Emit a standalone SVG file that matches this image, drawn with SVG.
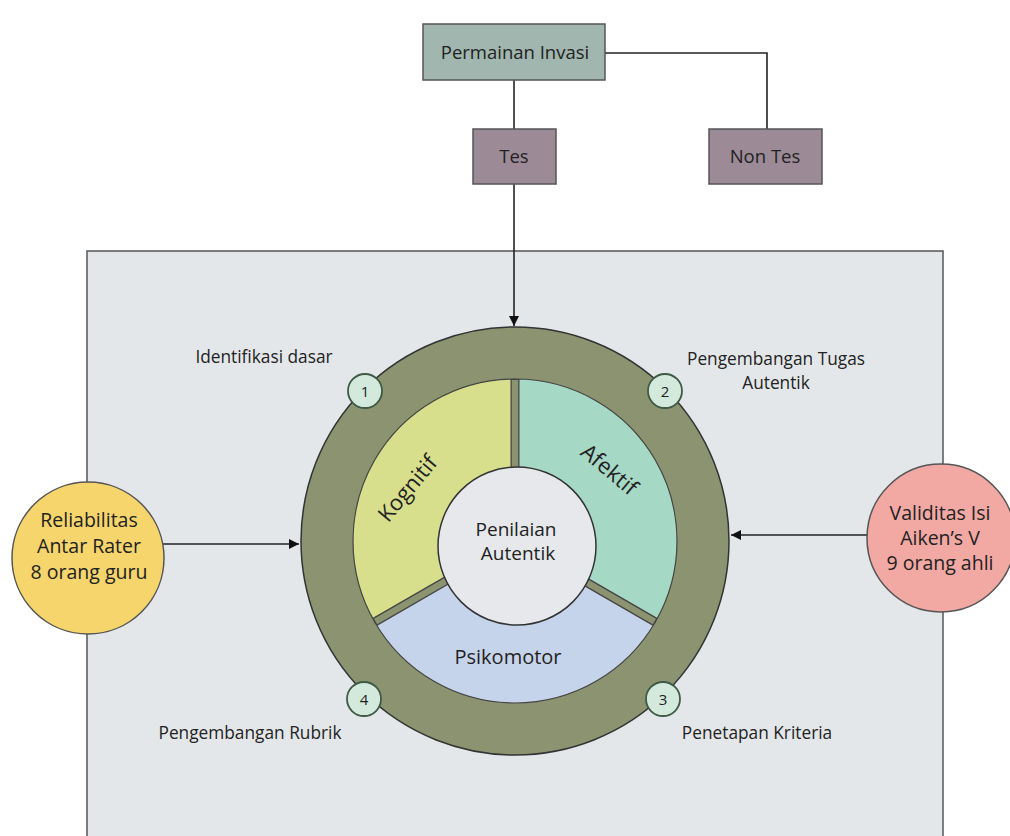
<svg xmlns="http://www.w3.org/2000/svg" width="1010" height="836" viewBox="0 0 1010 836">
<defs>
<style>
text{font-family:"Open Sans","Noto Sans","Liberation Sans",sans-serif;fill:#222;text-anchor:middle}
.lbl{font-size:17.3px}
.big{font-size:19.5px}
.box{stroke:#555;stroke-width:1.5}
.conn{stroke:#222;stroke-width:1.6;fill:none}
.num{fill:#d2e9dc;stroke:#3f5a45;stroke-width:1.8}
.sec{stroke:#444;stroke-width:1.2}
</style>
<marker id="ah" viewBox="0 0 10 10" refX="10" refY="5" markerWidth="10" markerHeight="10" markerUnits="userSpaceOnUse" orient="auto"><path d="M0,0 L10,5 L0,10 z" fill="#111"/></marker>
</defs>
<rect x="0" y="0" width="1010" height="836" fill="#ffffff"/>
<g id="panel"><rect x="87" y="251" width="856" height="600" fill="#e4e7ea" stroke="#555" stroke-width="1.5"/></g>
<g id="connectors">
<path class="conn" d="M514,80 V129"/>
<path class="conn" d="M605,53 H767 V129"/>
<path class="conn" d="M514,184 V326" marker-end="url(#ah)"/>
<path class="conn" d="M163,544 H299" marker-end="url(#ah)"/>
<path class="conn" d="M867,535 H731" marker-end="url(#ah)"/>
</g>
<g id="permainan"><rect class="box" x="423" y="24" width="182" height="56" fill="#a0b6ae"/><text x="515" y="59" style="font-size:18.5px">Permainan Invasi</text></g>
<g id="tes"><rect class="box" x="473" y="129" width="83" height="55" fill="#9c8b96"/><text x="514" y="163" style="font-size:18.5px">Tes</text></g>
<g id="nontes"><rect class="box" x="709" y="129" width="113" height="55" fill="#9c8b96"/><text x="765" y="163" style="font-size:18.5px">Non Tes</text></g>
<g id="ring"><circle cx="515" cy="541" r="214" fill="#8b9370" stroke="#333" stroke-width="1.5"/></g>
<g id="kognitif"><path class="sec" d="M515,541 L374.7,622 A162,162 0 0 1 515,379 Z" fill="#d7df8c"/><text transform="translate(408,489) rotate(-50)" style="font-size:22px" dy="7">Kognitif</text></g>
<g id="afektif"><path class="sec" d="M515,541 L515,379 A162,162 0 0 1 655.3,622 Z" fill="#a6d8c6"/><text transform="translate(609,470) rotate(40)" style="font-size:22px" dy="7">Afektif</text></g>
<g id="psikomotor"><path class="sec" d="M515,541 L655.3,622 A162,162 0 0 1 374.7,622 Z" fill="#c6d4eb"/><text x="508" y="664" style="font-size:20px">Psikomotor</text></g>
<g id="dividers">
<path d="M515,541 V379 M515,541 L655.3,622 M515,541 L374.7,622" stroke="#444" stroke-width="9"/>
<path d="M515,541 V380 M515,541 L654.4,621.5 M515,541 L375.6,621.5" stroke="#8b9370" stroke-width="6.5"/>
</g>
<g id="center"><circle cx="517" cy="546" r="79" fill="#e6e8eb" stroke="#333" stroke-width="1.5"/><text x="516" y="536" style="font-size:19px">Penilaian</text><text x="518" y="560" style="font-size:19px">Autentik</text></g>
<g id="n1"><circle class="num" cx="365" cy="391" r="17"/><text x="365" y="397" style="font-size:15px">1</text></g>
<g id="n2"><circle class="num" cx="665" cy="391" r="17"/><text x="665" y="397" style="font-size:15px">2</text></g>
<g id="n3"><circle class="num" cx="663" cy="699" r="17"/><text x="663" y="705" style="font-size:15px">3</text></g>
<g id="n4"><circle class="num" cx="364" cy="699" r="17"/><text x="364" y="705" style="font-size:15px">4</text></g>
<g id="lbl1"><text class="lbl" x="264" y="363">Identifikasi dasar</text></g>
<g id="lbl2"><text class="lbl" x="776" y="365">Pengembangan Tugas</text><text class="lbl" x="776" y="389">Autentik</text></g>
<g id="lbl3"><text class="lbl" x="757" y="739">Penetapan Kriteria</text></g>
<g id="lbl4"><text class="lbl" x="250" y="739">Pengembangan Rubrik</text></g>
<g id="reliabilitas"><circle cx="88" cy="558" r="76" fill="#f6d56d" stroke="#555" stroke-width="1.5"/><text class="big" x="89" y="527">Reliabilitas</text><text class="big" x="89" y="553">Antar Rater</text><text class="big" x="89" y="579">8 orang guru</text></g>
<g id="validitas"><circle cx="941" cy="538" r="74" fill="#f2a8a3" stroke="#555" stroke-width="1.5"/><text class="big" x="940" y="520">Validitas Isi</text><text class="big" x="940" y="545">Aiken’s V</text><text class="big" x="940" y="570">9 orang ahli</text></g>
</svg>
